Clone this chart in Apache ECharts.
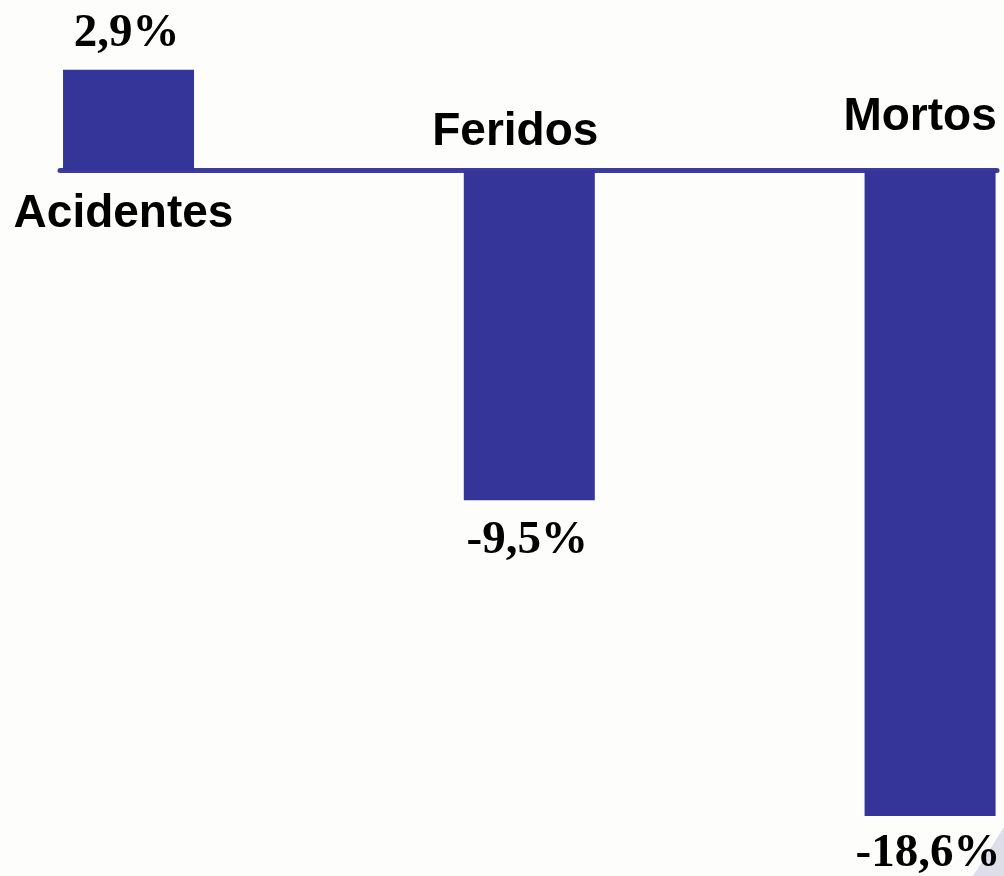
<!DOCTYPE html>
<html>
<head>
<meta charset="utf-8">
<script src="https://cdn.jsdelivr.net/npm/echarts@6/dist/echarts.min.js"></script>
<style>
  html, body { margin: 0; padding: 0; background: #fdfdfb; }
  #chart { width: 1004px; height: 876px; }
</style>
</head>
<body>
<div id="chart"></div>
<script>
// ---- data ----
const categories = ['Acidentes', 'Feridos', 'Mortos'];
const values = [2.9, -9.5, -18.6];
const valueLabels = ['2,9%', '-9,5%', '-18,6%'];

// ---- layout (not data) ----
const barColor = '#353599';
const nameLabelLayout = [
  { position: 'bottom', distance: 21, offset: [-5, 0] },
  { position: 'top', distance: 15, offset: [-14, 0] },
  { position: 'top', distance: 30, offset: [-10, 0] }
];
const valueLabelDist = [13, 17, 14];

const chart = echarts.init(document.getElementById('chart'), null, { renderer: 'canvas' });

const barData = values.map((v, i) => ({
  value: [i, v],
  label: {
    show: true,
    position: v >= 0 ? 'top' : 'bottom',
    distance: valueLabelDist[i],
    offset: [-2, 0],
    formatter: valueLabels[i]
  }
}));

const nameData = categories.map((c, i) => ({
  value: [i, 0],
  label: Object.assign({ show: true, formatter: c, color: '#000' }, nameLabelLayout[i])
}));

chart.setOption({
  backgroundColor: '#fdfdfb',
  animation: false,
  grid: { left: 60, right: 7, top: 31.7, bottom: 11.5, containLabel: false },
  xAxis: {
    type: 'value',
    min: -0.171,
    max: 2.167,
    axisLine: { show: true, onZero: true, lineStyle: { color: '#3c3ca0', width: 5 } },
    axisTick: { show: false },
    axisLabel: { show: false },
    splitLine: { show: false }
  },
  yAxis: {
    type: 'value',
    min: -20,
    max: 4,
    show: false,
    splitLine: { show: false }
  },
  graphic: [{
    type: 'polygon',
    z: -10,
    shape: { points: [[973, 876], [1004, 827], [1004, 876]] },
    style: { fill: '#dedee9' }
  }],
  series: [
    {
      type: 'bar',
      data: barData,
      barWidth: 131,
      itemStyle: { color: barColor },
      label: {
        color: '#000',
        fontFamily: 'Liberation Serif',
        fontWeight: 'bold',
        fontSize: 47
      },
      z: 2
    },
    {
      type: 'scatter',
      data: nameData,
      symbolSize: 0,
      silent: true,
      itemStyle: { opacity: 1 },
      label: {
        color: '#000',
        fontFamily: 'Liberation Sans',
        fontWeight: 'bold',
        fontSize: 46
      },
      z: 5
    }
  ]
});
</script>
</body>
</html>
